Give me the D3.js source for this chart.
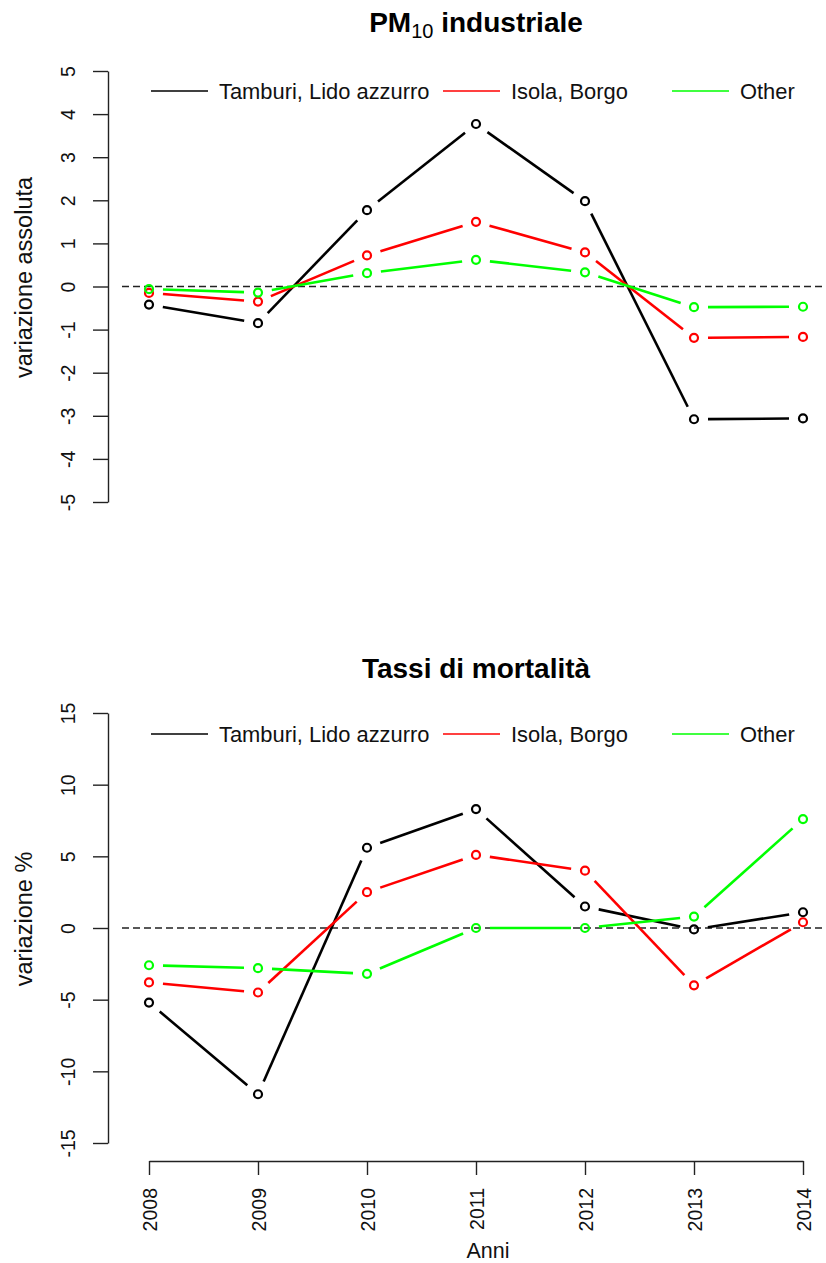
<!DOCTYPE html>
<html>
<head>
<meta charset="utf-8">
<script src="https://cdn.jsdelivr.net/npm/d3@7"></script>
<style>
  body { margin: 0; background: #fff; }
  svg { display: block; font-family: "Liberation Sans", Arial, sans-serif; }
</style>
</head>
<body>
<div id="canvas"></div>
<script>
// Anni sull'asse x
const anni = [2008, 2009, 2010, 2011, 2012, 2013, 2014];

// Nomi delle serie (legenda)
const zone = ["Tamburi, Lido azzurro", "Isola, Borgo", "Other"];
const colori = ["#000000", "#ff0000", "#00ff00"];

// PM10 industriale: variazione assoluta
const pmTamburi = [-0.42, -0.85, 1.77, 3.77, 1.98, -3.08, -3.06];
const pmIsola   = [-0.15, -0.35, 0.72, 1.50, 0.79, -1.19, -1.17];
const pmOther   = [-0.06, -0.14, 0.31, 0.62, 0.33, -0.48, -0.47];

// Tassi di mortalita: variazione %
const mortTamburi = [-5.2, -11.6, 5.6, 8.3, 1.5, -0.1, 1.1];
const mortIsola   = [-3.8, -4.5, 2.5, 5.1, 4.0, -4.0, 0.4];
const mortOther   = [-2.6, -2.8, -3.2, 0.0, 0.0, 0.8, 7.6];

// Tick dell'asse y
const ticksPm = [-5, -4, -3, -2, -1, 0, 1, 2, 3, 4, 5];
const ticksMort = [-15, -10, -5, 0, 5, 10, 15];

const width = 826;
const height = 1263;

const svg = d3.select("#canvas").append("svg")
    .attr("width", width)
    .attr("height", height);

svg.append("rect").attr("width", width).attr("height", height).attr("fill", "#fff");

// Scala x comune ai due pannelli
const x = d3.scaleLinear().domain([2008, 2014]).range([149, 803]);

const legX = [151, 443, 672];   // inizio dei segmenti della legenda
const gap = 14;                  // spazio attorno ai punti (type = "b")

function pannello(opt) {
    const g = svg.append("g");

    const y = d3.scaleLinear()
        .domain([opt.ticks[0], opt.ticks[opt.ticks.length - 1]])
        .range([opt.yBottom, opt.yTop]);

    // Titolo
    const t = g.append("text")
        .attr("x", 476)
        .attr("y", opt.titleY)
        .attr("text-anchor", "middle")
        .style("font-size", "28px")
        .style("font-weight", "bold");
    opt.title(t);

    // Asse y
    const ay = g.append("g")
        .attr("transform", "translate(108,0)")
        .call(d3.axisLeft(y).tickValues(opt.ticks).tickSize(15).tickSizeOuter(0).tickFormat(d3.format("d")));
    ay.select(".domain").attr("stroke", "#222").attr("stroke-width", 1.4);
    ay.selectAll(".tick line").attr("stroke", "#222").attr("stroke-width", 1.4);
    ay.selectAll(".tick text")
        .attr("x", 0).attr("dy", 0).attr("y", 0)
        .attr("text-anchor", "middle")
        .attr("transform", "translate(-33,0) rotate(-90)")
        .style("font-size", "19.5px")
        .style("font-family", "Liberation Sans, Arial, sans-serif")
        .attr("fill", "#111")
        .text(d => d === 0 ? "0" : String(d).replace("\u2212", "-"));

    // Etichetta asse y
    g.append("text")
        .attr("transform", `translate(32, ${y(0) - 9}) rotate(-90)`)
        .attr("text-anchor", "middle")
        .style("font-size", "23.5px")
        .attr("fill", "#111")
        .text(opt.ylab);

    // Linea tratteggiata dello zero
    g.append("line")
        .attr("x1", 122).attr("x2", 829)
        .attr("y1", y(0)).attr("y2", y(0))
        .attr("stroke", "#222")
        .attr("stroke-width", 1.3)
        .attr("stroke-dasharray", "7,4");

    // Serie: segmenti con spazio attorno ai punti + cerchi
    opt.series.forEach((vals, i) => {
        const pts = anni.map((a, k) => [x(a), y(vals[k])]);
        for (let k = 0; k < pts.length - 1; k++) {
            const [x0, y0] = pts[k];
            const [x1, y1] = pts[k + 1];
            const len = Math.hypot(x1 - x0, y1 - y0);
            if (len <= 2 * gap) continue;
            const ux = (x1 - x0) / len, uy = (y1 - y0) / len;
            g.append("line")
                .attr("x1", x0 + ux * gap).attr("y1", y0 + uy * gap)
                .attr("x2", x1 - ux * gap).attr("y2", y1 - uy * gap)
                .attr("stroke", colori[i])
                .attr("stroke-width", 2.6);
        }
        g.selectAll(null).data(pts).enter().append("circle")
            .attr("cx", d => d[0])
            .attr("cy", d => d[1])
            .attr("r", 4)
            .attr("fill", "none")
            .attr("stroke", colori[i])
            .attr("stroke-width", 2.2);
    });

    // Legenda orizzontale
    zone.forEach((z, i) => {
        g.append("line")
            .attr("x1", legX[i]).attr("x2", legX[i] + 57)
            .attr("y1", opt.legY).attr("y2", opt.legY)
            .attr("stroke", colori[i])
            .attr("stroke-width", 1.6);
        g.append("text")
            .attr("x", legX[i] + 68)
            .attr("y", opt.legY + 8)
            .style("font-size", "21.9px")
            .attr("fill", "#111")
            .text(z);
    });

    return { g, y };
}

// Pannello 1: PM10 industriale
pannello({
    ticks: ticksPm,
    yTop: 71,
    yBottom: 502,
    titleY: 32,
    legY: 91,
    ylab: "variazione assoluta",
    series: [pmTamburi, pmIsola, pmOther],
    title: t => {
        t.append("tspan").text("PM");
        t.append("tspan")
            .attr("dy", 6)
            .style("font-size", "20px")
            .style("font-weight", "normal")
            .text("10");
        t.append("tspan").attr("dy", -6).text(" industriale");
    }
});

// Pannello 2: Tassi di mortalita
const p2 = pannello({
    ticks: ticksMort,
    yTop: 713,
    yBottom: 1143,
    titleY: 678,
    legY: 734,
    ylab: "variazione %",
    series: [mortTamburi, mortIsola, mortOther],
    title: t => t.text("Tassi di mortalità")
});

// Asse x del secondo pannello
const ax = p2.g.append("g")
    .attr("transform", "translate(0,1161)")
    .call(d3.axisBottom(x).tickValues(anni).tickSize(14).tickSizeOuter(0).tickFormat(d3.format("d")));
ax.select(".domain").attr("stroke", "#222").attr("stroke-width", 1.4);
ax.selectAll(".tick line").attr("stroke", "#222").attr("stroke-width", 1.4);
ax.selectAll(".tick text")
    .attr("x", 0).attr("y", 0).attr("dy", 0)
    .attr("text-anchor", "end")
    .attr("transform", "translate(7,27) rotate(-90)")
    .style("font-size", "19.5px")
    .style("font-family", "Liberation Sans, Arial, sans-serif")
    .attr("fill", "#111");

// Etichetta asse x
p2.g.append("text")
    .attr("x", 488)
    .attr("y", 1258)
    .attr("text-anchor", "middle")
    .style("font-size", "21.5px")
    .attr("fill", "#111")
    .text("Anni");
</script>
</body>
</html>
